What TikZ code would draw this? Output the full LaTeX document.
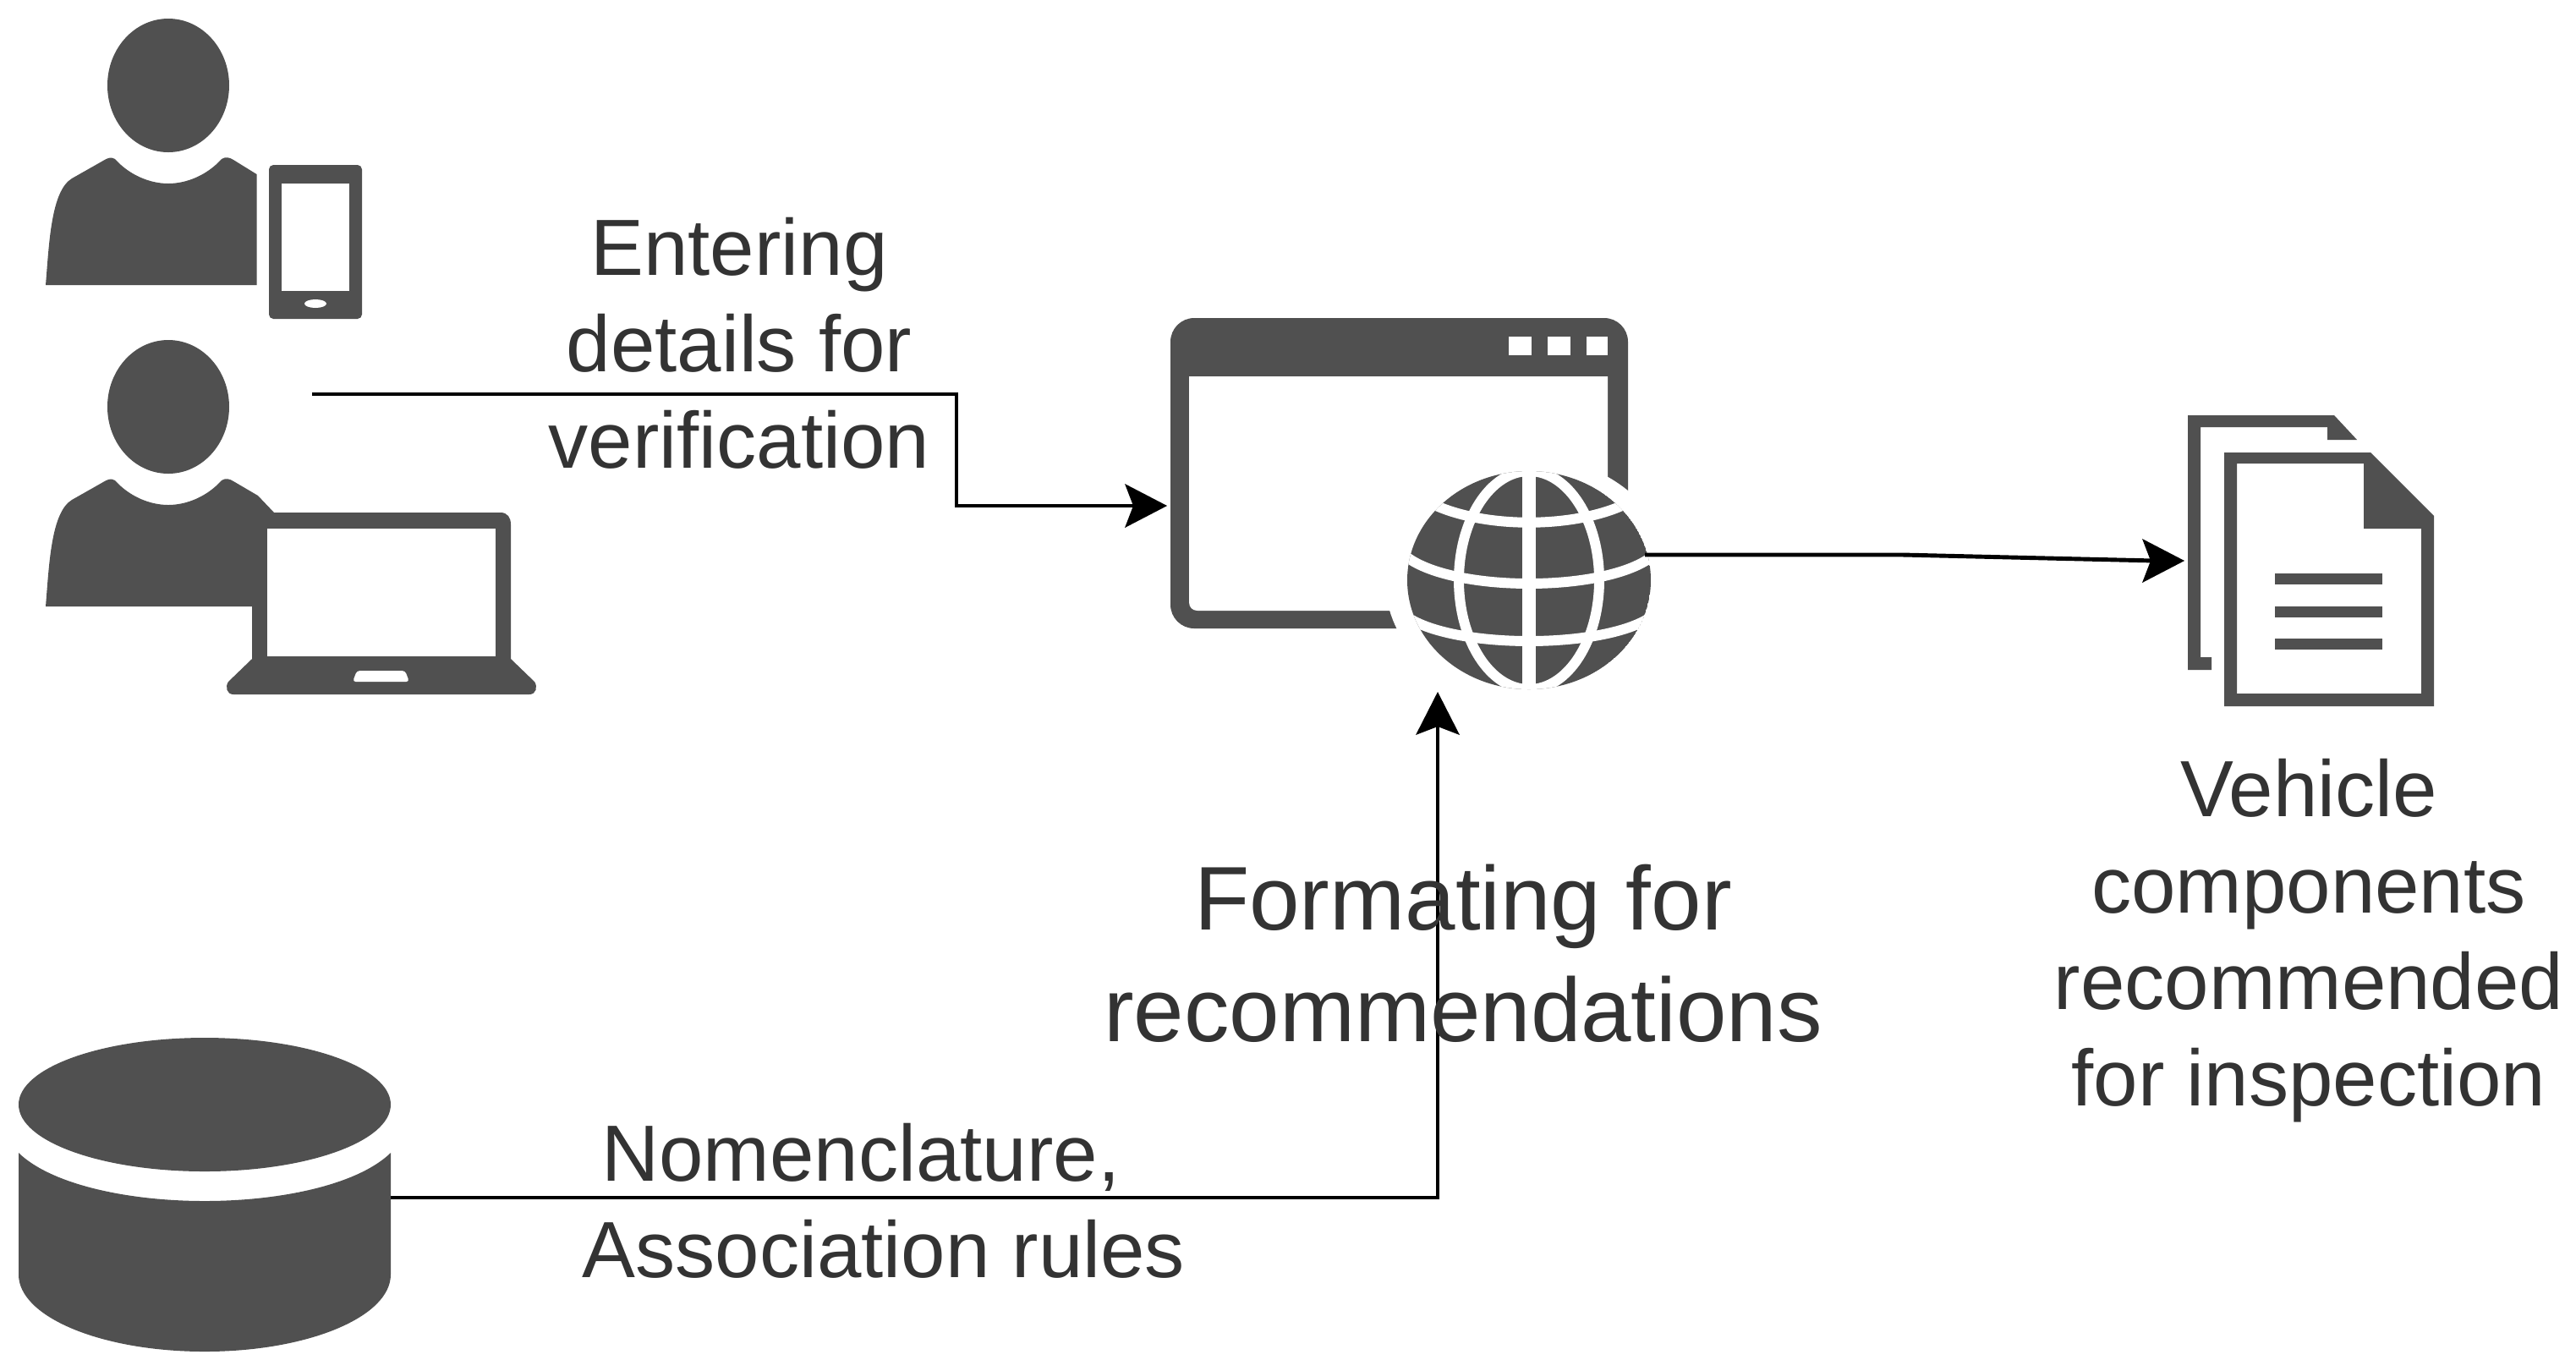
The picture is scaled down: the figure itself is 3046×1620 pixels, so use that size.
\documentclass[tikz,border=0pt]{standalone}
\usepackage{fontspec}
\setmainfont{Liberation Sans}
\definecolor{icon}{HTML}{505050}
\definecolor{ink}{HTML}{333333}
\tikzset{
  conn/.style={draw=black,line width=1.4pt},
  lbl/.style={text=ink,align=center,font=\fontsize{26.8}{32.4}\selectfont,inner sep=0pt},
  lblbig/.style={text=ink,align=center,font=\fontsize{30.4}{37.5}\selectfont,inner sep=0pt},
  anchorpt/.style={inner sep=0pt,minimum size=0pt}
}
\begin{document}
\begin{tikzpicture}[x=0.01cm,y=-0.01cm]
\useasboundingbox (0,0) rectangle (3046,1620);
\fill[white] (0,0) rectangle (3046,1620);
% person with tablet
\fill[icon] (199,101) ellipse [x radius=72,y radius=79];
\fill[icon] (54,337) .. controls (58,290) and (60,226) .. (85,211)
  -- (122,190) .. controls (127,187) and (131,185) .. (136,188)
  .. controls (152,206) and (176,217) .. (199,217)
  .. controls (222,217) and (246,206) .. (262,188)
  .. controls (267,185) and (271,186) .. (276,189)
  -- (303.5,206) -- (303.5,337) -- cycle;
\fill[icon,rounded corners=1.5pt] (318,195) rectangle (428,377);
\fill[white] (333,217) rectangle (413,344);
\fill[white] (373,359) ellipse [x radius=13,y radius=5];
% person with laptop
\fill[icon] (199,481) ellipse [x radius=72,y radius=79];
\fill[icon] (54,717) .. controls (58,670) and (60,606) .. (85,591)
  -- (122,570) .. controls (127,567) and (131,565) .. (136,568)
  .. controls (152,586) and (176,597) .. (199,597)
  .. controls (222,597) and (246,586) .. (262,568)
  .. controls (267,565) and (271,566) .. (276,569)
  -- (305,586) -- (324,606) -- (324,717) -- cycle;
\fill[icon] (298,700) rectangle (324,790);
\fill[icon] (300,606) -- (592,606) .. controls (600,606) and (604,612) .. (604,620) -- (604,779)
  -- (632,806) .. controls (636,812) and (634,821) .. (626,821) -- (276,821)
  .. controls (268,821) and (266,812) .. (270,806) -- (298,779) -- (298,700) -- cycle;
\fill[white] (316,625) rectangle (586,776);
\fill[white,rounded corners=1pt] (417,806) -- (422,793) -- (479,793) -- (484,806) -- cycle;
% window
\fill[icon,rounded corners=8pt] (1384,376) rectangle (1925,743);
\fill[white] (1406,445) -- (1901,445) -- (1901,722) -- (1416,722) .. controls (1410,722) and (1406,718) .. (1406,712) -- cycle;
\fill[white] (1808,686) ellipse [x radius=170,y radius=146];
\fill[white] (1784,398) rectangle (1811,420);
\fill[white] (1830,398) rectangle (1857,420);
\fill[white] (1876,398) rectangle (1901,420);
% globe
\begin{scope}
  \clip (1808,686) ellipse [x radius=144,y radius=129];
  \fill[icon] (1808,686) ellipse [x radius=144,y radius=129];
  \draw[white,line width=3.4pt] (1808,686) ellipse [x radius=83,y radius=129];
  \fill[white] (1800,550) rectangle (1816,820);
  \draw[white,line width=3.4pt] (1658,569) .. controls (1708,634) and (1908,634) .. (1958,569);
  \draw[white,line width=3.4pt] (1658,654) .. controls (1708,702) and (1908,702) .. (1958,654);
  \draw[white,line width=3.4pt] (1658,725) .. controls (1708,769) and (1908,769) .. (1958,725);
\end{scope}
% documents
\fill[icon] (2587,491) -- (2760,491) -- (2787,520) -- (2752,520) -- (2752,505) -- (2602,505)
  -- (2602,777) -- (2615,777) -- (2615,792) -- (2587,792) -- cycle;
\fill[icon,even odd rule] (2630,535) -- (2803,535) -- (2878,610) -- (2878,835) -- (2630,835) -- cycle
  (2645,548) -- (2795,548) -- (2795,625) -- (2863,625) -- (2863,820) -- (2645,820) -- cycle;
\fill[icon] (2690,678) rectangle (2817,691);
\fill[icon] (2690,717) rectangle (2817,730);
\fill[icon] (2690,755) rectangle (2817,768);
% database
\fill[icon] (242,1306) ellipse [x radius=220,y radius=79];
\fill[icon] (22,1363) .. controls (60,1400) and (150,1420) .. (242,1420) .. controls (334,1420) and (424,1400) .. (462,1363)
  -- (462,1507) .. controls (462,1557) and (364,1598) .. (242,1598) .. controls (120,1598) and (22,1557) .. (22,1507) -- cycle;
% anchors for connectors
\node[anchorpt] (user) at (369,466) {};
\node[anchorpt] (webin) at (1345,598) {};
\coordinate (bend1) at (1131,466);
\coordinate (bend1b) at (1131,598);
\node[anchorpt] (webout) at (1945,656) {};
\node[anchorpt] (docs) at (2548,663) {};
\node[anchorpt] (db) at (462,1416) {};
\coordinate (bend3) at (1700,1416);
\node[anchorpt] (webup) at (1700,853) {};
% connectors
\draw[conn] (user.center) -- (bend1) -- (bend1b) -- (webin.center);
\draw[conn] (webout.center) -- (2250,656) -- (docs.center);
\draw[conn] (db.center) -- (bend3) -- (webup.center);
\fill[black] (1380,598) -- (1330,572) -- (1340,598) -- (1330,624) -- cycle;
\fill[black] (2583,663) -- (2533,637) -- (2543,663) -- (2533,689) -- cycle;
\fill[black] (1700,818) -- (1674,869) -- (1700,859) -- (1726,869) -- cycle;
% labels
\node[lbl] (t1) at (874,406) {Entering\\details for\\verification};
\node[lbl] (t2) at (1045,1420) {Nomenclature,\hspace*{15.4pt}\\Association rules};
\node[lblbig] (t3) at (1730,1127) {Formating for\\recommendations};
\node[lbl] (t4) at (2730,1112) {Vehicle\\components\\recommended\\for inspection};
\end{tikzpicture}
\end{document}
